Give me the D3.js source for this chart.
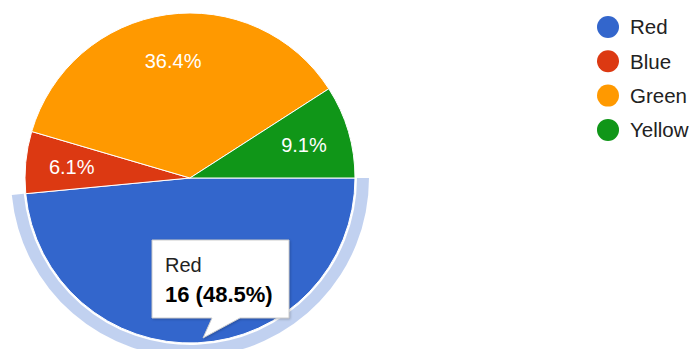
<!DOCTYPE html>
<html>
<head>
<meta charset="utf-8">
<script src="https://cdn.jsdelivr.net/npm/d3@7"></script>
<style>
  body { margin: 0; background: #fff; }
  svg { display: block; font-family: Arial, "Liberation Sans", sans-serif; }
</style>
</head>
<body>
<svg width="693" height="349"></svg>
<script>
const categories = ["Red", "Blue", "Green", "Yellow"];
const values = [16, 2, 12, 3];
const colors = ["#3366cc", "#dc3912", "#ff9900", "#109618"];
const highlighted = 0;

const cx = 190, cy = 178, radius = 165;
const total = d3.sum(values);
const pct = v => (v / total * 100).toFixed(1) + "%";

const svg = d3.select("svg");

const pie = d3.pie()
  .sort(null)
  .startAngle(Math.PI / 2)
  .endAngle(Math.PI / 2 + 2 * Math.PI)
  .value(d => d);

const arcs = pie(values);

const arc = d3.arc().innerRadius(0).outerRadius(radius);
const labelArc = d3.arc().innerRadius(radius * 0.72).outerRadius(radius * 0.72);
const ringArc = d3.arc().innerRadius(radius + 2).outerRadius(radius + 14);

const g = svg.append("g").attr("transform", `translate(${cx},${cy})`);

// hover ring round the highlighted slice
g.append("path")
  .attr("d", ringArc(arcs[highlighted]))
  .attr("fill", colors[highlighted])
  .attr("fill-opacity", 0.3);

g.selectAll("path.slice")
  .data(arcs)
  .join("path")
  .attr("class", "slice")
  .attr("d", arc)
  .attr("fill", (d, i) => colors[i])
  .attr("stroke", "#fff")
  .attr("stroke-width", 1);

// the highlighted slice's label sits under the tooltip, so skip it
g.selectAll("text.label")
  .data(arcs.filter(d => d.index !== highlighted))
  .join("text")
  .attr("class", "label")
  .attr("transform", d => `translate(${labelArc.centroid(d)})`)
  .attr("text-anchor", "middle")
  .attr("dy", "0.36em")
  .attr("fill", "#fff")
  .attr("font-size", 20)
  .text(d => pct(d.value));

// legend
const legend = svg.append("g").attr("transform", "translate(608,27)");
const item = legend.selectAll("g")
  .data(categories)
  .join("g")
  .attr("transform", (d, i) => `translate(0,${i * 34.3})`);
item.append("circle").attr("r", 11).attr("fill", (d, i) => colors[i]);
item.append("text")
  .attr("x", 22)
  .attr("dy", "0.36em")
  .attr("font-size", 20.5)
  .attr("fill", "#222")
  .text(d => d);

// tooltip
const tip = svg.append("g").attr("transform", "translate(152,240)");
const tw = 137, th = 78;
tip.append("path")
  .attr("d", `M0,0H${tw}V${th}H88L51,98L60,${th}H0Z`)
  .attr("fill", "#fff")
  .attr("stroke", "#ccc")
  .attr("stroke-width", 1)
  .style("filter", "drop-shadow(1px 1px 1px rgba(0,0,0,0.2))");
tip.append("text")
  .attr("x", 13).attr("y", 32)
  .attr("font-size", 20)
  .attr("fill", "#222")
  .text(categories[highlighted]);
tip.append("text")
  .attr("x", 13).attr("y", 62)
  .attr("font-size", 22)
  .attr("font-weight", "bold")
  .attr("fill", "#000")
  .text(`${values[highlighted]} (${pct(values[highlighted])})`);
</script>
</body>
</html>
